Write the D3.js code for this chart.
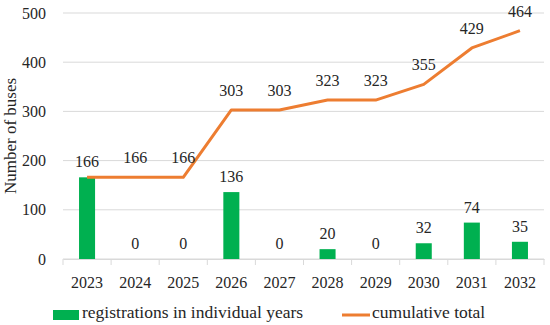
<!DOCTYPE html>
<html>
<head>
<meta charset="utf-8">
<script src="https://cdn.jsdelivr.net/npm/d3@7"></script>
<style>
  body { margin: 0; background: #fff; }
  text { font-family: "Liberation Serif", "DejaVu Serif", serif; fill: #262626; }
</style>
</head>
<body>
<svg id="chart" width="550" height="325"></svg>
<script>
var years = ["2023", "2024", "2025", "2026", "2027", "2028", "2029", "2030", "2031", "2032"];
var registrations = [166, 0, 0, 136, 0, 20, 0, 32, 74, 35];
var cumulative = [166, 166, 166, 303, 303, 323, 323, 355, 429, 464];
var yTicks = [0, 100, 200, 300, 400, 500];

var svg = d3.select("#chart"),
    margin = {top: 13, right: 6, bottom: 66, left: 63},
    width = +svg.attr("width") - margin.left - margin.right,
    height = +svg.attr("height") - margin.top - margin.bottom;

var x = d3.scaleBand().domain(years).range([0, width]).padding(0),
    y = d3.scaleLinear().domain([0, 500]).range([height, 0]);

var g = svg.append("g")
    .attr("transform", "translate(" + margin.left + "," + margin.top + ")");

// gridlines
g.append("g")
  .selectAll("line")
  .data(yTicks)
  .enter().append("line")
    .attr("x1", 0)
    .attr("x2", width)
    .attr("y1", function(d) { return y(d); })
    .attr("y2", function(d) { return y(d); })
    .attr("stroke", "#d9d9d9")
    .attr("stroke-width", 1);

var yAxis = g.append("g")
    .call(d3.axisLeft(y).tickValues(yTicks).tickSize(0).tickPadding(17));
yAxis.select(".domain").remove();
yAxis.selectAll("text")
    .style("font-size", "16px")
    .attr("fill", "#262626");

var xAxis = g.append("g")
    .attr("transform", "translate(0," + height + ")")
    .call(d3.axisBottom(x).tickSize(6).tickSizeOuter(0));
xAxis.select(".domain").attr("stroke", "#d9d9d9");
xAxis.selectAll(".tick line")
    .attr("x1", -x.step() / 2)
    .attr("x2", -x.step() / 2)
    .attr("stroke", "#d9d9d9");
xAxis.append("line")
    .attr("x1", width).attr("x2", width)
    .attr("y1", 0).attr("y2", 6)
    .attr("stroke", "#d9d9d9");
xAxis.selectAll("text")
    .attr("y", 18)
    .style("font-size", "16px")
    .attr("fill", "#262626");

// bars
var barW = x.bandwidth() / 3;
g.selectAll(".bar")
  .data(years)
  .enter().append("rect")
    .attr("class", "bar")
    .attr("x", function(d) { return x(d) + (x.bandwidth() - barW) / 2; })
    .attr("y", function(d, i) { return y(registrations[i]); })
    .attr("width", barW)
    .attr("height", function(d, i) { return height - y(registrations[i]); })
    .attr("fill", "#00b050");

// line
var line = d3.line()
    .x(function(d, i) { return x(years[i]) + x.bandwidth() / 2; })
    .y(function(d) { return y(d); });

g.append("path")
    .datum(cumulative)
    .attr("d", line)
    .attr("fill", "none")
    .attr("stroke", "#ed7d31")
    .attr("stroke-width", 3)
    .attr("stroke-linejoin", "round");

// labels
g.selectAll(".barlab")
  .data(years)
  .enter().append("text")
    .attr("x", function(d) { return x(d) + x.bandwidth() / 2; })
    .attr("y", function(d, i) { return y(registrations[i]) - 10; })
    .attr("text-anchor", "middle")
    .style("font-size", "16px")
    .text(function(d, i) { return registrations[i]; });

g.selectAll(".linelab")
  .data(years.filter(function(d, i) { return cumulative[i] !== registrations[i]; }))
  .enter().append("text")
    .attr("x", function(d) { return x(d) + x.bandwidth() / 2; })
    .attr("y", function(d) { return y(cumulative[years.indexOf(d)]) - 14; })
    .attr("text-anchor", "middle")
    .style("font-size", "16px")
    .text(function(d) { return cumulative[years.indexOf(d)]; });

// y title
svg.append("text")
    .attr("transform", "translate(16," + (margin.top + height / 2) + ") rotate(-90)")
    .attr("text-anchor", "middle")
    .style("font-size", "17px")
    .text("Number of buses");

// legend
var leg = svg.append("g").attr("transform", "translate(0,318)");
leg.append("rect")
    .attr("x", 53).attr("y", -8)
    .attr("width", 26).attr("height", 10)
    .attr("fill", "#00b050");
leg.append("text")
    .attr("x", 82).attr("y", 0)
    .style("font-size", "17.5px")
    .text("registrations in individual years");
leg.append("line")
    .attr("x1", 342).attr("x2", 370)
    .attr("y1", -3).attr("y2", -3)
    .attr("stroke", "#ed7d31")
    .attr("stroke-width", 3);
leg.append("text")
    .attr("x", 372).attr("y", 0)
    .style("font-size", "17.5px")
    .text("cumulative total");
</script>
</body>
</html>
